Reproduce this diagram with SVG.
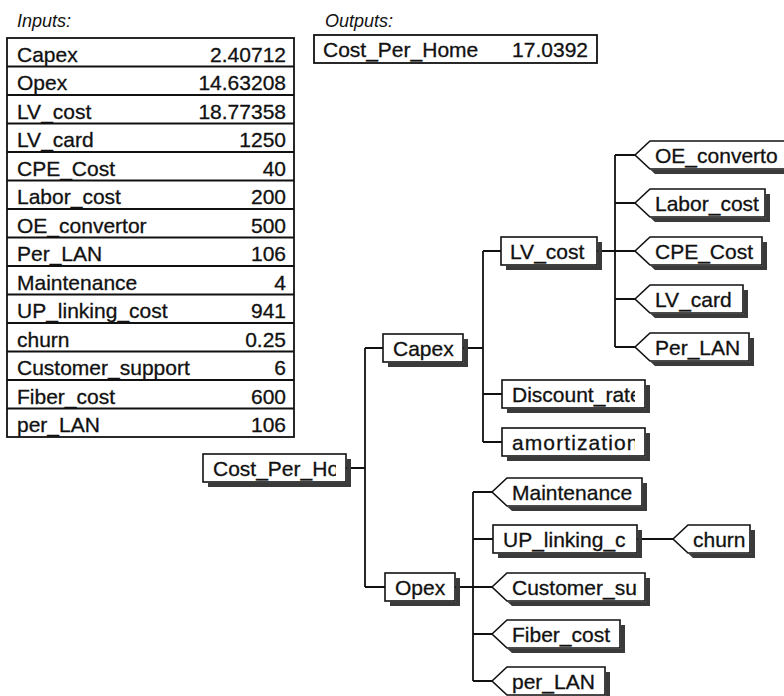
<svg xmlns="http://www.w3.org/2000/svg" width="784" height="696" viewBox="0 0 784 696">
<style>
.t{font-family:"Liberation Sans",Arial,sans-serif;font-size:21px;fill:#111;stroke:#111;stroke-width:0.3}
.hdr{font-family:"Liberation Sans",Arial,sans-serif;font-size:18px;font-style:italic;fill:#111}
.v{text-anchor:end}
.box{fill:#fff;stroke:#111;stroke-width:1.6}
.shd{fill:#3a3a3a;stroke:none}
.ln{stroke:#111;stroke-width:1.8;fill:none}
.grid{stroke:#111;stroke-width:1.8;fill:none}
</style>
<defs>
<clipPath id="c-cph"><rect x="205" y="454" width="131" height="28"/></clipPath>
<clipPath id="c-disc"><rect x="504" y="380" width="131" height="28"/></clipPath>
<clipPath id="c-amor"><rect x="504" y="428" width="131" height="28"/></clipPath>
<clipPath id="c-upl"><rect x="495" y="525" width="131" height="28"/></clipPath>
<clipPath id="c-cs"><rect x="500" y="573" width="138" height="28"/></clipPath>
<clipPath id="c-oe"><rect x="640" y="141" width="138" height="28"/></clipPath>
</defs>
<rect width="784" height="696" fill="#fff"/>

<g id="inputs">
<text class="hdr" x="17" y="27">Inputs:</text>
<rect class="grid" x="7" y="38" width="287" height="399"/>
<path class="grid" d="M7 66.5H294M7 95H294M7 123.5H294M7 152H294M7 180.5H294M7 209H294M7 237.5H294M7 266H294M7 294.5H294M7 323H294M7 351.5H294M7 380H294M7 408.5H294"/>
<text class="t" x="17" y="61.5">Capex</text><text class="t v" x="286" y="61.5">2.40712</text>
<text class="t" x="17" y="90">Opex</text><text class="t v" x="286" y="90">14.63208</text>
<text class="t" x="17" y="118.5">LV_cost</text><text class="t v" x="286" y="118.5">18.77358</text>
<text class="t" x="17" y="147">LV_card</text><text class="t v" x="286" y="147">1250</text>
<text class="t" x="17" y="175.5">CPE_Cost</text><text class="t v" x="286" y="175.5">40</text>
<text class="t" x="17" y="204">Labor_cost</text><text class="t v" x="286" y="204">200</text>
<text class="t" x="17" y="232.5">OE_convertor</text><text class="t v" x="286" y="232.5">500</text>
<text class="t" x="17" y="261">Per_LAN</text><text class="t v" x="286" y="261">106</text>
<text class="t" x="17" y="289.5">Maintenance</text><text class="t v" x="286" y="289.5">4</text>
<text class="t" x="17" y="318">UP_linking_cost</text><text class="t v" x="286" y="318">941</text>
<text class="t" x="17" y="346.5">churn</text><text class="t v" x="286" y="346.5">0.25</text>
<text class="t" x="17" y="375">Customer_support</text><text class="t v" x="286" y="375">6</text>
<text class="t" x="17" y="403.5">Fiber_cost</text><text class="t v" x="286" y="403.5">600</text>
<text class="t" x="17" y="432">per_LAN</text><text class="t v" x="286" y="432">106</text>
</g>

<g id="outputs">
<text class="hdr" x="325" y="27">Outputs:</text>
<rect class="grid" x="314" y="35" width="283" height="28"/>
<text class="t" x="323" y="57">Cost_Per_Home</text><text class="t v" x="588" y="57">17.0392</text>
</g>

<g id="connectors">
<path class="ln" d="M346 468H365M365 348V587M365 348H383M365 587H385"/>
<path class="ln" d="M463 348H483M483 251V442M483 251H501M483 394H502M483 442H502"/>
<path class="ln" d="M597 251H615M615 155V347M615 155H635M615 203H635M615 251H635M615 299H635M615 347H635"/>
<path class="ln" d="M455 587H473M473 492V681M473 492H492M473 539H493M473 587H492M473 634H492M473 681H492"/>
<path class="ln" d="M637 539H673"/>
</g>

<g id="n-cost-per-home">
<rect class="box" x="203" y="454" width="143" height="28"/>
<path class="shd" d="M346.8 459H351V487H208V482.8H346.8Z"/>
<text class="t" x="213" y="475.5" clip-path="url(#c-cph)">Cost_Per_Home</text>
</g>
<g id="n-capex">
<rect class="box" x="383" y="334" width="80" height="28"/>
<path class="shd" d="M463.8 339H468V367H388V362.8H463.8Z"/>
<text class="t" x="393" y="355.5">Capex</text>
</g>
<g id="n-opex">
<rect class="box" x="385" y="573" width="70" height="28"/>
<path class="shd" d="M455.8 578H460V606H390V601.8H455.8Z"/>
<text class="t" x="395" y="594.5">Opex</text>
</g>
<g id="n-lv-cost">
<rect class="box" x="501" y="237" width="96" height="28"/>
<path class="shd" d="M597.8 242H602V270H506V265.8H597.8Z"/>
<text class="t" x="510" y="258.5">LV_cost</text>
</g>
<g id="n-discount-rate">
<rect class="box" x="502" y="380" width="143" height="28"/>
<path class="shd" d="M645.8 385H650V413H507V408.8H645.8Z"/>
<text class="t" x="512" y="401.5" clip-path="url(#c-disc)">Discount_rate</text>
</g>
<g id="n-amortization">
<rect class="box" x="502" y="428" width="143" height="28"/>
<path class="shd" d="M645.8 433H650V461H507V456.8H645.8Z"/>
<text class="t" x="512" y="449.5" letter-spacing="1.1" clip-path="url(#c-amor)">amortization</text>
</g>
<g id="n-up-linking">
<rect class="box" x="493" y="525" width="144" height="28"/>
<path class="shd" d="M637.8 530H642V558H498V553.8H637.8Z"/>
<text class="t" x="503" y="546.5" clip-path="url(#c-upl)">UP_linking_cost</text>
</g>

<g id="n-oe-convertor">
<path class="box" d="M635 155L650 141H788V169H650Z"/>
<path class="shd" d="M636 156.5L650.5 169.8H788.8V146H793V174H655L640 160Z"/>
<text class="t" x="655" y="162.5" clip-path="url(#c-oe)">OE_convertor</text>
</g>
<g id="n-labor-cost">
<path class="box" d="M635 203L650 189H765V217H650Z"/>
<path class="shd" d="M636 204.5L650.5 217.8H765.8V194H770V222H655L640 208Z"/>
<text class="t" x="655" y="210.5">Labor_cost</text>
</g>
<g id="n-cpe-cost">
<path class="box" d="M635 251L650 237H762V265H650Z"/>
<path class="shd" d="M636 252.5L650.5 265.8H762.8V242H767V270H655L640 256Z"/>
<text class="t" x="655" y="258.5">CPE_Cost</text>
</g>
<g id="n-lv-card">
<path class="box" d="M635 299L650 285H743V313H650Z"/>
<path class="shd" d="M636 300.5L650.5 313.8H743.8V290H748V318H655L640 304Z"/>
<text class="t" x="655" y="306.5">LV_card</text>
</g>
<g id="n-per-lan-1">
<path class="box" d="M635 347L650 333H749V361H650Z"/>
<path class="shd" d="M636 348.5L650.5 361.8H749.8V338H754V366H655L640 352Z"/>
<text class="t" x="655" y="354.5">Per_LAN</text>
</g>

<g id="n-maintenance">
<path class="box" d="M492 492L507 478H642V506H507Z"/>
<path class="shd" d="M493 493.5L507.5 506.8H642.8V483H647V511H512L497 497Z"/>
<text class="t" x="512" y="499.5">Maintenance</text>
</g>
<g id="n-churn">
<path class="box" d="M673 539L688 525H750V553H688Z"/>
<path class="shd" d="M674 540.5L688.5 553.8H750.8V530H755V558H693L678 544Z"/>
<text class="t" x="693" y="546.5">churn</text>
</g>
<g id="n-customer-support">
<path class="box" d="M492 587L507 573H645V601H507Z"/>
<path class="shd" d="M493 588.5L507.5 601.8H645.8V578H650V606H512L497 592Z"/>
<text class="t" x="512" y="594.5" clip-path="url(#c-cs)">Customer_support</text>
</g>
<g id="n-fiber-cost">
<path class="box" d="M492 634L507 620H620V648H507Z"/>
<path class="shd" d="M493 635.5L507.5 648.8H620.8V625H625V653H512L497 639Z"/>
<text class="t" x="512" y="641.5">Fiber_cost</text>
</g>
<g id="n-per-lan-2">
<path class="box" d="M492 681L507 667H605V695H507Z"/>
<path class="shd" d="M493 682.5L507.5 695.8H605.8V672H610V700H512L497 686Z"/>
<text class="t" x="512" y="688.5">per_LAN</text>
</g>
</svg>
